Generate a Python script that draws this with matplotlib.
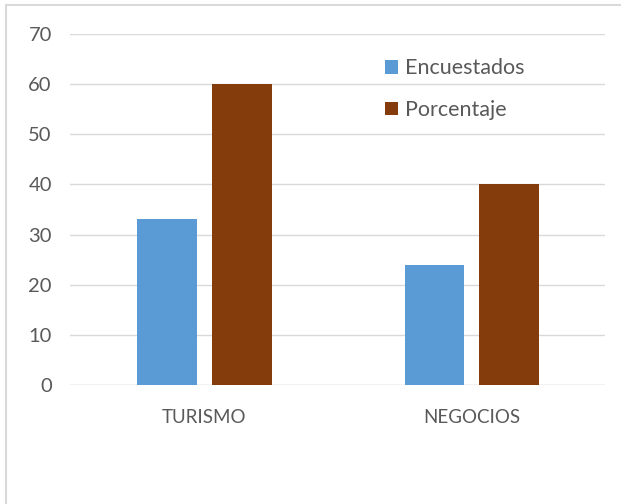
import matplotlib
matplotlib.use('Agg')
import matplotlib.pyplot as plt
import numpy as np
from matplotlib.lines import Line2D

categories = ['TURISMO', 'NEGOCIOS']
encuestados = [33, 24]
porcentaje = [60, 40]
series_names = ['Encuestados', 'Porcentaje']

plt.rcParams['font.family'] = ['Lato', 'DejaVu Sans']
text_color = '#595959'

fig = plt.figure(figsize=(6.24, 5.04), dpi=100)
ax = fig.add_axes([0.112, 0.236, 0.858, 0.697])

x = np.arange(len(categories))
width = 0.224
ax.bar(x - 0.138, encuestados, width, color='#5B9BD5', label=series_names[0], zorder=3)
ax.bar(x + 0.142, porcentaje, width, color='#843C0C', label=series_names[1], zorder=3)

ax.set_xlim(-0.5, 1.5)
ax.set_ylim(0, 70)
ax.set_yticks(range(0, 71, 10))
ax.set_xticks(x)
ax.set_xticklabels(categories)
ax.grid(axis='y', color='#D9D9D9', linewidth=1, zorder=0)
ax.tick_params(length=0, colors=text_color)
ax.tick_params(axis='x', pad=17, labelsize=13.5)
ax.tick_params(axis='y', pad=13, labelsize=14.5)
for s in ax.spines.values():
    s.set_visible(False)
ax.axhline(0, color='#D9D9D9', linewidth=1, zorder=2)

leg = ax.legend(loc='upper left', bbox_to_anchor=(0.552, 0.985), frameon=False,
                fontsize=15.5, handlelength=0.6, handleheight=0.6,
                handletextpad=0.35, labelspacing=1.0)
for t in leg.get_texts():
    t.set_color(text_color)

# outer chart border (left and top visible)
fig.add_artist(Line2D([6 / 624, 6 / 624], [0, 1 - 5 / 504], transform=fig.transFigure,
                      color='#D9D9D9', linewidth=1.5))
fig.add_artist(Line2D([6 / 624, 620 / 624], [1 - 5 / 504, 1 - 5 / 504], transform=fig.transFigure,
                      color='#D9D9D9', linewidth=1.5))

fig.savefig('out.png', dpi=100)
